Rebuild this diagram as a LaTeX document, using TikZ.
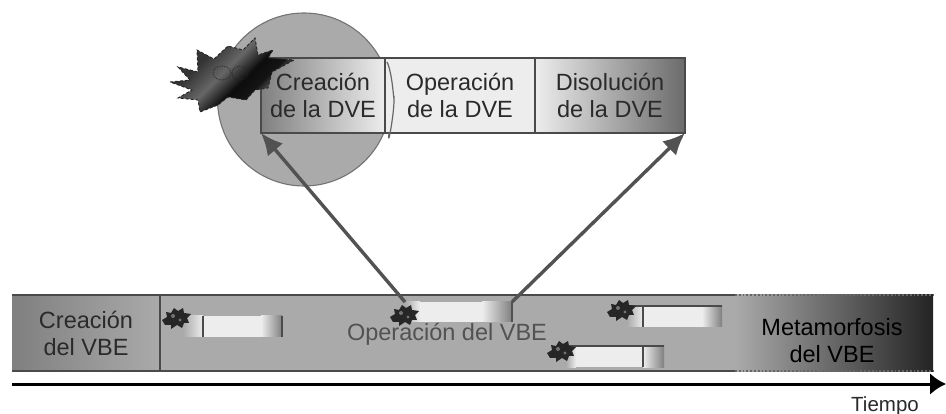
\documentclass[tikz,border=0pt]{standalone}
\usepackage{fontspec}
\setmainfont{Liberation Sans}
\usetikzlibrary{arrows.meta}
\definecolor{barg}{HTML}{AAAAAA}
\definecolor{lite}{HTML}{EDEDED}
\definecolor{edge}{HTML}{4A4A4A}
\definecolor{ink}{HTML}{2A2A2A}
\pgfdeclarehorizontalshading{burst}{100bp}{
  color(0bp)=(black!70); color(34bp)=(black!80); color(46bp)=(black!60);
  color(56bp)=(black!95); color(63bp)=(black!92); color(72bp)=(black!45); color(100bp)=(black!25)}
\tikzset{
  x=1pt,y=-1pt,
  txt/.style={font=\fontsize{23.5}{27}\selectfont,text=ink,align=center},
  cell/.style={txt,draw=edge,line width=1.8pt,anchor=north west,inner sep=0pt,outer sep=0pt,minimum height=75pt},
  strip/.style={anchor=north west,inner sep=0pt,outer sep=0pt,minimum height=21pt},
  tick/.style={draw=edge,line width=1.8pt},
  link/.style={draw=black!68,line width=3.4pt,-{Latex[length=22pt,width=20pt]}},
  bugmark/.pic={
    \fill[black!85] (-15,2)--(-10,-1)--(-11,-6)--(-6,-5)--(-3,-10)--(1,-7)--(6,-10)--(7,-5)--(14,-4)--(10,0)--(12,5)--(7,5)--(5,10)--(0,7)--(-6,11)--(-6,7)--(-12,7)--cycle;
    \fill[black!55] (-4,-2) circle (2);
    \fill[black!55] (3,2) circle (1.6);
  }
}
\begin{document}
\begin{tikzpicture}
\useasboundingbox (0,0) rectangle (946,414);
% circle
\node[circle,draw=black!55,line width=1.1pt,fill=barg,minimum size=173pt,inner sep=0pt,outer sep=0pt] (halo) at (304,99.5) {};
% DVE cells
\node[cell,left color=black!50,right color=lite,minimum width=124pt] (cd) at (261,58) {Creación\\de la DVE};
\node[cell,fill=lite,minimum width=150pt] (od) at (385,58) {Operación\\de la DVE};
\node[cell,left color=lite,right color=black!58,minimum width=150pt] (dd) at (535,58) {Disolución\\de la DVE};
\draw[black!60,line width=1.2pt] (od.north west) ++(2,4) .. controls +(6,12) and +(0,12) .. ++(7,34) .. controls +(1,14) and +(-2,20) .. ++(-5,37);
% burst
\path[draw=black!85,line width=.9pt,densely dashed,shading=burst,shading angle=-45]
 (170,82)--(190,80)--(178,67)--(198,72)--(197,50)--(214,59)--(228,46)--(243,50)--(255,38)--(258,55)--(273,50)--(268,58)--(294,60)--(272,72)--(268,88)--(255,90)--(246,100)--(228,97)--(218,105)--(200,112)--(198,100)--(178,98)--(192,90)--cycle;
\draw[black!85,line width=.8pt,densely dotted] (222,73) ellipse [x radius=9,y radius=7] (240,73) ellipse [x radius=8,y radius=7];
% VBE bar
\node[strip,fill=barg,minimum width=575pt,minimum height=76pt] (ob) at (160,295) {};
\node[strip,left color=barg,middle color=black!50,right color=black!86,minimum width=198pt,minimum height=76pt] (mb) at (735,295) {};
\node[cell,left color=black!50,right color=barg,minimum width=148pt,minimum height=76pt,draw=none] (cb) at (12,295) {Creación\\del VBE};
\draw[edge,line width=1.8pt] (cb.north west)--(ob.north east) (cb.south west)--(ob.south east);
\draw[edge,line width=1.8pt] (cb.north east)--(cb.south east);
\draw[black!60,line width=1.8pt,dotted] (mb.north west)--(mb.north east) (mb.south west)--(mb.south east);
% activity strips
\node[strip,left color=barg,right color=lite,minimum width=20pt] (a1) at (183,316) {};
\node[strip,fill=lite,minimum width=58pt] (a2) at (203,316) {};
\node[strip,left color=lite,right color=black!50,minimum width=21pt] (a3) at (261,316) {};
\draw[tick] (a1.north east)--(a1.south east) (a3.north east)--(a3.south east);
\node[strip,left color=barg,right color=lite,minimum width=15pt,minimum height=20pt] (b1) at (405,302) {};
\node[strip,fill=lite,minimum width=62pt,minimum height=20pt] (b2) at (420,302) {};
\node[strip,left color=lite,right color=black!50,minimum width=30pt,minimum height=20pt] (b3) at (482,302) {};
\node[strip,left color=barg,right color=lite,minimum width=16pt] (c1) at (627,306) {};
\node[strip,fill=lite,minimum width=58pt] (c2) at (644,306) {};
\node[strip,left color=lite,right color=black!50,minimum width=20pt] (c3) at (702,306) {};
\draw[tick] (c1.north west)--(c3.north east) (c1.north east)--(c1.south east);
\node[strip,left color=barg,right color=lite,minimum width=10pt] (d1) at (566,346) {};
\node[strip,fill=lite,minimum width=67pt] (d2) at (576,346) {};
\node[strip,left color=lite,right color=black!50,minimum width=21pt] (d3) at (643,346) {};
\draw[tick] (d1.north west)--(d3.north east) (d3.north west)--(d3.south west);
% labels in bar
\node[txt,text=black!68] (ol) at (447,334) {Operación del VBE};
\node[txt,text=black] (ml) at (832,341) {Metamorfosis\\del VBE};
% links
\draw[link] (b1.north west) -- (cd.south west);
\draw[link] (b3.north east) -- (dd.south east);
\draw[tick,draw=black!68] (b3.north east) -- (b3.south east);
% bugs
\pic at (177,318) {bugmark};
\pic at (405,315) {bugmark};
\pic at (622,310) {bugmark};
\pic at (562,351) {bugmark};
% time axis
\coordinate (t0) at (12,384);
\coordinate (t1) at (946,384);
\draw[black,line width=3pt,-{Latex[length=16pt,width=22pt]}] (t0)--(t1);
\node[font=\fontsize{20.5}{24}\selectfont,text=ink,inner sep=0pt] (tl) at (885,406) {Tiempo};
\end{tikzpicture}
\end{document}
